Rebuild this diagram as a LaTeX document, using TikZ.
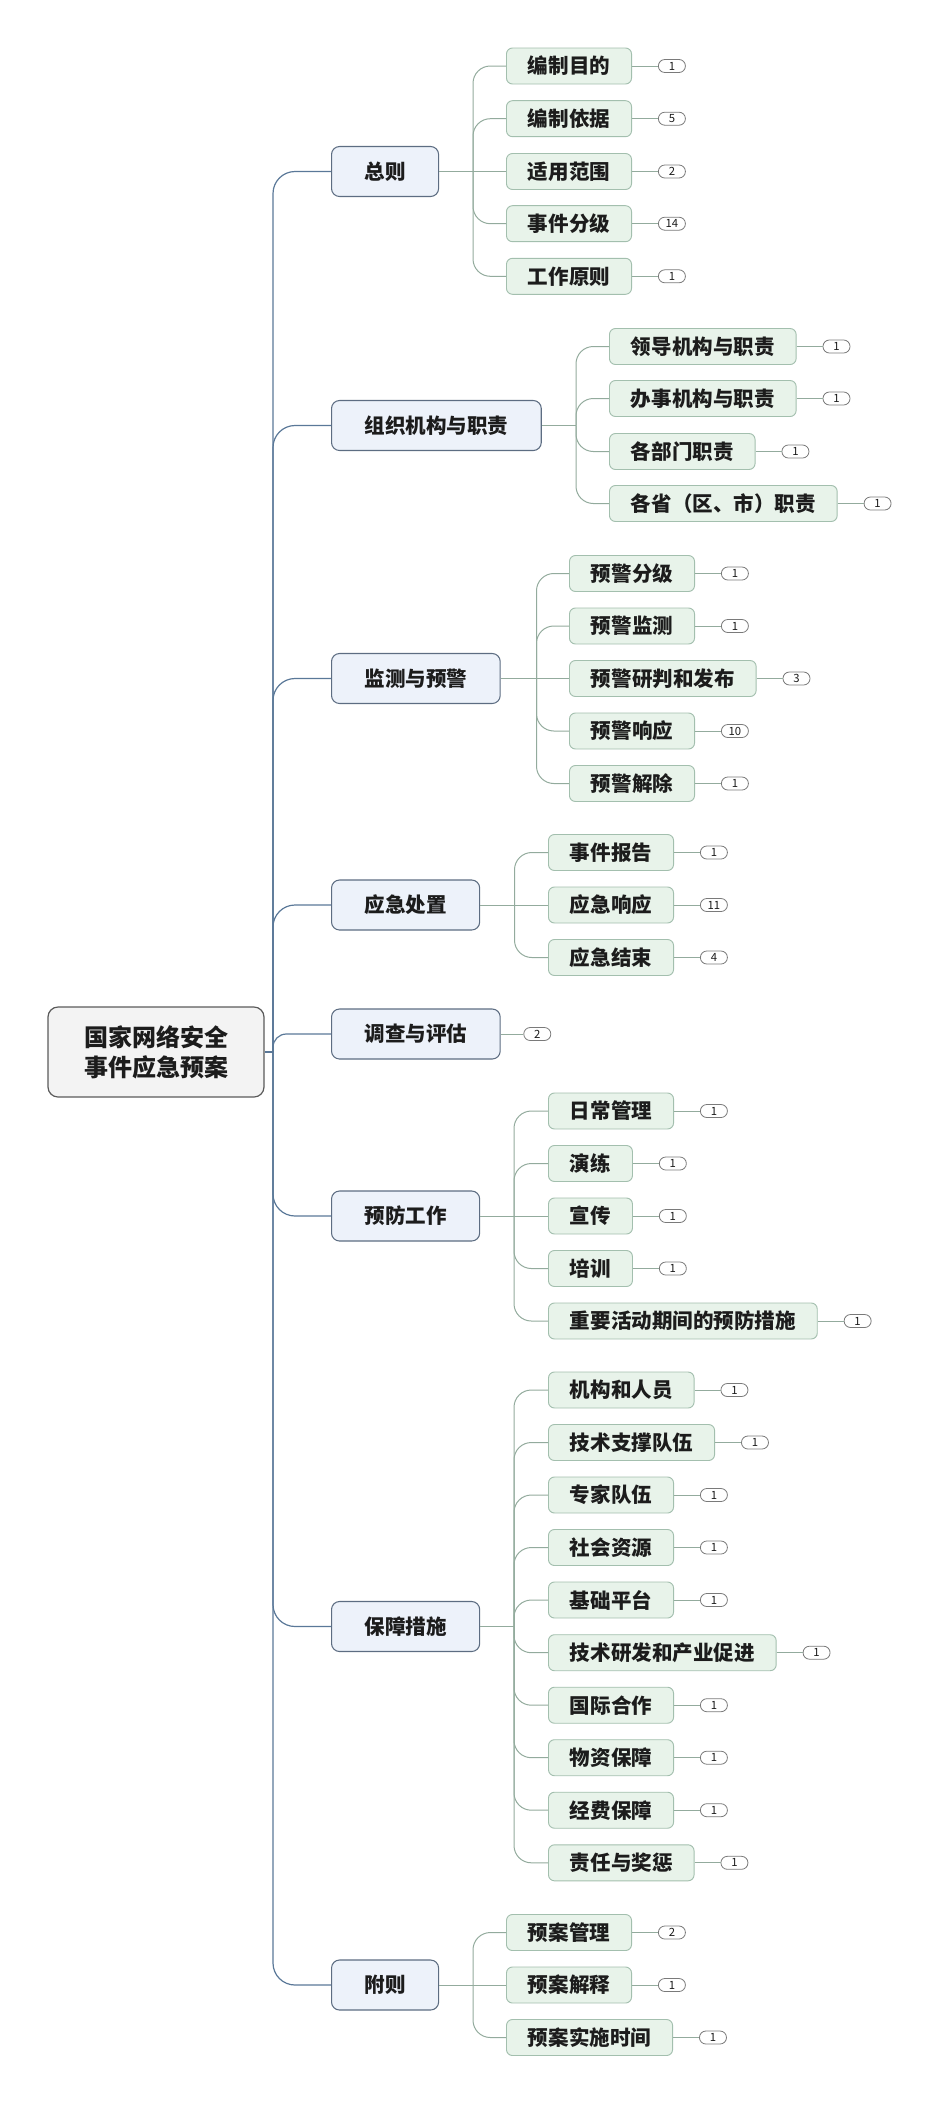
\documentclass[tikz,border=0pt]{standalone}
\usepackage{fontspec}
\setmainfont{Noto Sans CJK SC}
\definecolor{rootline}{HTML}{5A5A5A}
\definecolor{rootfill}{HTML}{F3F3F3}
\definecolor{topline}{HTML}{5D6D82}
\definecolor{topfill}{HTML}{EDF2FA}
\definecolor{subline}{HTML}{A3BFAE}
\definecolor{subfill}{HTML}{E8F3EA}
\definecolor{spinecol}{HTML}{5A7898}
\definecolor{twigcol}{HTML}{93AB9D}
\definecolor{badgeline}{HTML}{7A7A7A}
\definecolor{txt}{HTML}{1C1C1C}
\tikzset{
  rootbox/.style={draw=rootline, fill=rootfill, rounded corners=7.5pt, line width=0.9pt,
    minimum width=162pt, minimum height=67.5pt, align=center, inner sep=0pt,
    font=\fontsize{18}{22.5}\selectfont\bfseries, text=txt},
  topbox/.style={draw=topline, fill=topfill, rounded corners=6pt, line width=0.8pt,
    minimum height=37.5pt, inner xsep=24.75pt, inner ysep=0pt, anchor=west,
    font=\fontsize{15.4}{18}\selectfont\bfseries, text=txt},
  subbox/.style={draw=subline, fill=subfill, rounded corners=4.5pt, line width=0.7pt,
    minimum height=27pt, inner xsep=16.1pt, inner ysep=0pt, anchor=west,
    font=\fontsize{15.4}{18}\selectfont\bfseries, text=txt},
  badge/.style={draw=badgeline, fill=white, rounded corners=4.8pt, line width=0.6pt,
    minimum width=20.25pt, minimum height=9.75pt, inner sep=0pt, anchor=west,
    font=\fontsize{8.5}{9}\selectfont, text=txt},
  spine/.style={draw=spinecol, line width=0.9pt},
  twig/.style={draw=twigcol, line width=0.75pt},
}
\newcommand\mmleaf[5]{%
  \node[subbox] (#1) at (#2,#3) {#4};
  \node[badge] (#1b) at ([xshift=19.5pt]#1.east) {#5};
  \draw[twig] (#1.east) -- (#1b.west);
}
\newcommand\mmlink[2]{\draw[twig,rounded corners=13pt] (#1) |- (#2.west);}
\begin{document}
\begin{tikzpicture}[x=0.75pt,y=-0.75pt]
\useasboundingbox (0,0) rectangle (940,2103);
% root
\node[rootbox] (root) at (156,1052) {国家网络安全\\事件应急预案};
\coordinate (jr) at (273,1052);
% top level
\node[topbox] (t1) at (331,171.5) {总则};
\node[topbox] (t2) at (331,425.5) {组织机构与职责};
\node[topbox] (t3) at (331,678.5) {监测与预警};
\node[topbox] (t4) at (331,905) {应急处置};
\node[topbox] (t5) at (331,1034) {调查与评估};
\node[topbox] (t6) at (331,1216) {预防工作};
\node[topbox] (t7) at (331,1626.5) {保障措施};
\node[topbox] (t8) at (331,1985) {附则};
\draw[spine] (root.east) -- (jr);
\foreach \t in {t1,t2,t3,t4,t6,t7,t8}{\draw[spine,rounded corners=16.5pt] (jr) |- (\t.west);}
\draw[spine,rounded corners=10pt] (jr) |- (t5.west);
% group 1
\coordinate (j1) at (473,171.5);
\draw[twig] (t1.east) -- (j1);
\mmleaf{a1}{506}{66}{编制目的}{1}
\mmleaf{a2}{506}{118.7}{编制依据}{5}
\mmleaf{a3}{506}{171.5}{适用范围}{2}
\mmleaf{a4}{506}{223.7}{事件分级}{14}
\mmleaf{a5}{506}{276.3}{工作原则}{1}
\mmlink{j1}{a1}\mmlink{j1}{a2}\mmlink{j1}{a4}\mmlink{j1}{a5}
\draw[twig] (j1) -- (a3.west);
% group 2
\coordinate (j2) at (576,425.5);
\draw[twig] (t2.east) -- (j2);
\mmleaf{b1}{609}{346.5}{领导机构与职责}{1}
\mmleaf{b2}{609}{398.5}{办事机构与职责}{1}
\mmleaf{b3}{609}{451.5}{各部门职责}{1}
\mmleaf{b4}{609}{503.5}{各省（区、市）职责}{1}
\mmlink{j2}{b1}\mmlink{j2}{b2}\mmlink{j2}{b3}\mmlink{j2}{b4}
% group 3
\coordinate (j3) at (536.5,678.5);
\draw[twig] (t3.east) -- (j3);
\mmleaf{c1}{569}{573.5}{预警分级}{1}
\mmleaf{c2}{569}{626}{预警监测}{1}
\mmleaf{c3}{569}{678.5}{预警研判和发布}{3}
\mmleaf{c4}{569}{731}{预警响应}{10}
\mmleaf{c5}{569}{783.5}{预警解除}{1}
\mmlink{j3}{c1}\mmlink{j3}{c2}\mmlink{j3}{c4}\mmlink{j3}{c5}
\draw[twig] (j3) -- (c3.west);
% group 4
\coordinate (j4) at (514.5,905);
\draw[twig] (t4.east) -- (j4);
\mmleaf{d1}{548}{852.5}{事件报告}{1}
\mmleaf{d2}{548}{905}{应急响应}{11}
\mmleaf{d3}{548}{957.5}{应急结束}{4}
\mmlink{j4}{d1}\mmlink{j4}{d3}
\draw[twig] (j4) -- (d2.west);
% group 5
\node[badge] (t5b) at ([xshift=17pt]t5.east) {2};
\draw[twig] (t5.east) -- (t5b.west);
% group 6
\coordinate (j6) at (514,1216);
\draw[twig] (t6.east) -- (j6);
\mmleaf{e1}{548}{1111}{日常管理}{1}
\mmleaf{e2}{548}{1163.5}{演练}{1}
\mmleaf{e3}{548}{1216}{宣传}{1}
\mmleaf{e4}{548}{1268.5}{培训}{1}
\mmleaf{e5}{548}{1321}{重要活动期间的预防措施}{1}
\mmlink{j6}{e1}\mmlink{j6}{e2}\mmlink{j6}{e4}\mmlink{j6}{e5}
\draw[twig] (j6) -- (e3.west);
% group 7
\coordinate (j7) at (514,1626.5);
\draw[twig] (t7.east) -- (j7);
\mmleaf{f1}{548}{1390}{机构和人员}{1}
\mmleaf{f2}{548}{1442.5}{技术支撑队伍}{1}
\mmleaf{f3}{548}{1495}{专家队伍}{1}
\mmleaf{f4}{548}{1547.5}{社会资源}{1}
\mmleaf{f5}{548}{1600}{基础平台}{1}
\mmleaf{f6}{548}{1652.7}{技术研发和产业促进}{1}
\mmleaf{f7}{548}{1705.2}{国际合作}{1}
\mmleaf{f8}{548}{1757.7}{物资保障}{1}
\mmleaf{f9}{548}{1810.2}{经费保障}{1}
\mmleaf{f10}{548}{1862.8}{责任与奖惩}{1}
\foreach \c in {f1,f2,f3,f4,f5,f6,f7,f8,f9,f10}{\draw[twig,rounded corners=13pt] (j7) |- (\c.west);}
% group 8
\coordinate (j8) at (473,1985);
\draw[twig] (t8.east) -- (j8);
\mmleaf{g1}{506}{1932.5}{预案管理}{2}
\mmleaf{g2}{506}{1985}{预案解释}{1}
\mmleaf{g3}{506}{2037.5}{预案实施时间}{1}
\mmlink{j8}{g1}\mmlink{j8}{g3}
\draw[twig] (j8) -- (g2.west);
\end{tikzpicture}
\end{document}
